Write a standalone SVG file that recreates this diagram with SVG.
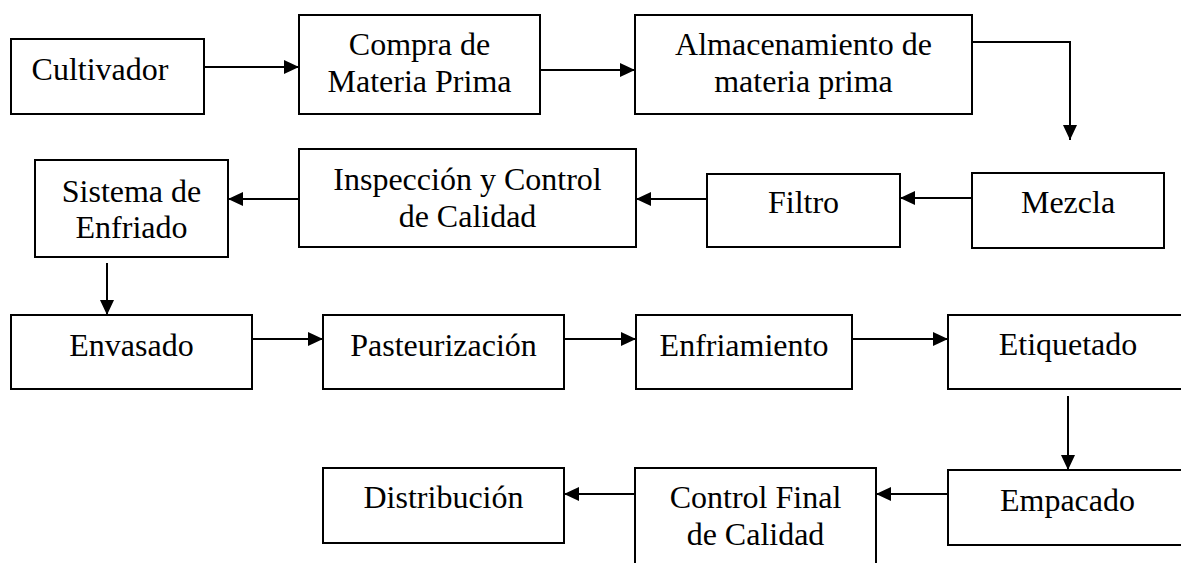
<svg xmlns="http://www.w3.org/2000/svg" width="1181" height="563" viewBox="0 0 1181 563">
<style>
.box{fill:#fff;stroke:#000;stroke-width:2}
.t{font-family:'Liberation Serif','Tinos','Times New Roman','Times','Nimbus Roman','DejaVu Serif',serif;font-size:32px;fill:#000;text-anchor:middle}
.c{fill:none;stroke:#000;stroke-width:2;marker-end:url(#ah)}
</style>
<defs>
<marker id="ah" viewBox="0 0 15 14" refX="15" refY="7" markerWidth="15" markerHeight="14" markerUnits="userSpaceOnUse" orient="auto">
<path d="M0,0 L15,7 L0,14 z" fill="#000"/>
</marker>
</defs>
<rect width="1181" height="563" fill="#fff"/>
<g id="connectors">
<path class="c" d="M204,67 H299"/>
<path class="c" d="M540,70 H635"/>
<path class="c" d="M972,42 H1070 V140"/>
<path class="c" d="M972,198 H900"/>
<path class="c" d="M707,199 H636"/>
<path class="c" d="M299,199 H228"/>
<path class="c" d="M107,263 V315"/>
<path class="c" d="M252,339 H323"/>
<path class="c" d="M564,339 H636"/>
<path class="c" d="M852,339 H948"/>
<path class="c" d="M1068,396 V470"/>
<path class="c" d="M948,494 H876"/>
<path class="c" d="M635,494 H564"/>
</g>
<g id="cultivador"><rect class="box" x="11" y="39" width="193" height="75"/><text class="t" font-family="Liberation Serif, serif" x="100" y="80">Cultivador</text></g>
<g id="compra"><rect class="box" x="299" y="15" width="241" height="99"/><text class="t" x="419.5" y="55">Compra de</text><text class="t" x="419.5" y="92">Materia Prima</text></g>
<g id="almacenamiento"><rect class="box" x="635" y="15" width="337" height="99"/><text class="t" x="803.5" y="55">Almacenamiento de</text><text class="t" x="803.5" y="92">materia prima</text></g>
<g id="mezcla"><rect class="box" x="972" y="173" width="192" height="75"/><text class="t" x="1068" y="213">Mezcla</text></g>
<g id="filtro"><rect class="box" x="707" y="174" width="193" height="73"/><text class="t" x="803.5" y="213">Filtro</text></g>
<g id="inspeccion"><rect class="box" x="299" y="149" width="337" height="98"/><text class="t" x="467.5" y="190">Inspección y Control</text><text class="t" x="467.5" y="227">de Calidad</text></g>
<g id="sistema"><rect class="box" x="35" y="160" width="193" height="97"/><text class="t" x="131.5" y="202">Sistema de</text><text class="t" x="131.5" y="238">Enfriado</text></g>
<g id="envasado"><rect class="box" x="11" y="315" width="241" height="74"/><text class="t" x="131.5" y="356">Envasado</text></g>
<g id="pasteurizacion"><rect class="box" x="323" y="315" width="241" height="74"/><text class="t" x="443.5" y="356">Pasteurización</text></g>
<g id="enfriamiento"><rect class="box" x="636" y="315" width="216" height="74"/><text class="t" x="744" y="356">Enfriamiento</text></g>
<g id="etiquetado"><rect class="box" x="948" y="315" width="240" height="74"/><text class="t" x="1068" y="355">Etiquetado</text></g>
<g id="empacado"><rect class="box" x="948" y="470" width="240" height="75"/><text class="t" x="1067.5" y="511">Empacado</text></g>
<g id="control-final"><rect class="box" x="635" y="468" width="241" height="100"/><text class="t" x="755.5" y="508">Control Final</text><text class="t" x="755.5" y="545">de Calidad</text></g>
<g id="distribucion"><rect class="box" x="323" y="468" width="241" height="75"/><text class="t" x="443.5" y="508">Distribución</text></g>
</svg>
